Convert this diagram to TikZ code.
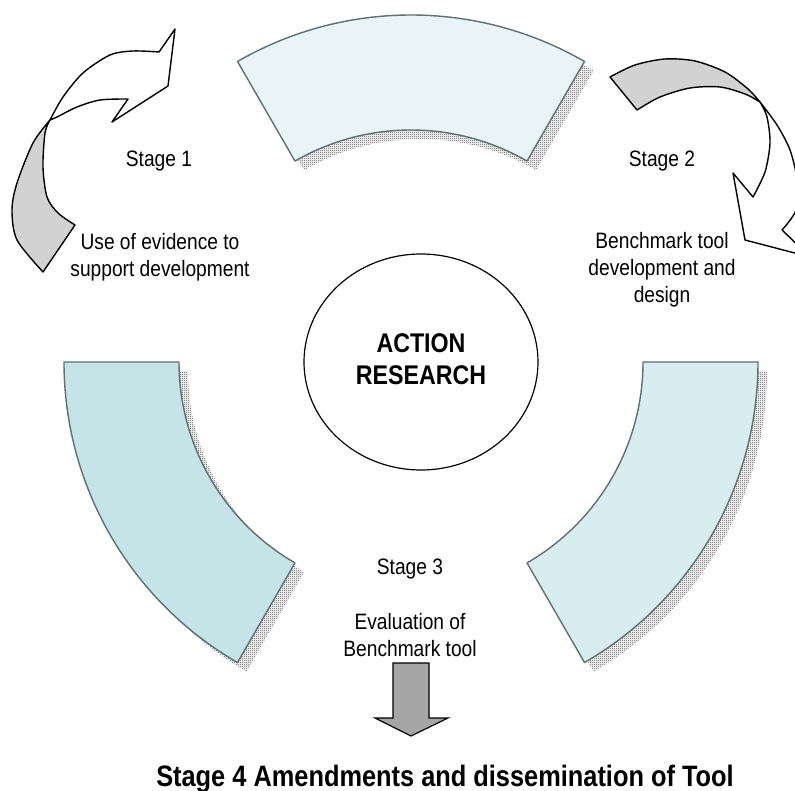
\documentclass[tikz,border=0pt]{standalone}
\usepackage{fontspec}
\setmainfont{Liberation Sans}[FakeStretch=0.86]
\usetikzlibrary{shapes.geometric, patterns}
\definecolor{bandline}{RGB}{95,112,112}
\definecolor{bandtop}{RGB}{232,244,245}
\definecolor{bandleft}{RGB}{197,228,232}
\definecolor{bandright}{RGB}{216,237,240}
% fine checker for the band shadows
\pgfdeclarepatternformonly{checker}{\pgfpointorigin}{\pgfpoint{2pt}{2pt}}{\pgfpoint{2pt}{2pt}}{
  \pgfpathrectangle{\pgfpointorigin}{\pgfpoint{1pt}{1pt}}
  \pgfpathrectangle{\pgfpoint{1pt}{1pt}}{\pgfpoint{1pt}{1pt}}
  \pgfusepath{fill}}
\tikzset{
  band/.style={draw=bandline, line width=1.4pt, line join=round},
  bandshadow/.style={pattern=checker, pattern color=black!70},
  bendarrow/.style={draw=black, line width=1.4pt, line join=round},
  stagetext/.style={font=\fontsize{22.3}{27}\selectfont, align=center, inner sep=0pt, anchor=base},
}

\begin{document}
\begin{tikzpicture}[x=1pt, y=-1pt]
\useasboundingbox (0,0) rectangle (795,791);
\clip (0,0) rectangle (795,791);

% the three bands round the middle, shadow first
\foreach \a/\b/\col in {-120/-60/bandtop, -240/-180/bandleft, -360/-300/bandright}{
  \fill[bandshadow, shift={(420,371)}] (\a:347) arc[start angle=\a, end angle=\b, radius=347]
    -- (\b:232) arc[start angle=\b, end angle=\a, radius=232] -- cycle;
  \filldraw[band, fill=\col, shift={(411,362)}] (\a:347) arc[start angle=\a, end angle=\b, radius=347]
    -- (\b:232) arc[start angle=\b, end angle=\a, radius=232] -- cycle;
}

% stage 1 arrow (underside, then face)
\filldraw[bendarrow, fill=gray!35] plot[smooth] coordinates {(50,120) (33,143) (17,183) (12,210) (17,240) (43,272)}
  -- plot[smooth] coordinates {(75,225) (58,213) (47,197) (43,167) (45,133) (50,120)} -- cycle;
\filldraw[bendarrow, fill=white] plot[smooth] coordinates {(50,120) (63,97) (83,73) (110,55) (133,51) (159,52)}
  -- (175,29) -- (168,86) -- (112,122)
  -- plot[smooth] coordinates {(128,99) (100,100) (77,107) (57,117) (50,120)} -- cycle;

% stage 2 arrow
\filldraw[bendarrow, fill=gray!35] plot[smooth] coordinates {(760,102) (748,89) (725,72) (695,61) (665,59) (635,65) (610,77)}
  -- plot[smooth] coordinates {(637,110) (660,97) (690,88) (720,87) (745,94) (760,102)} -- cycle;
\filldraw[bendarrow, fill=white] plot[smooth] coordinates {(760,102) (777,125) (790,150) (797,180) (796,210) (782,230)}
  -- (810,257) -- (745,240) -- (733,173)
  -- plot[smooth] coordinates {(753,197) (765,172) (770,143) (767,117) (760,102)} -- cycle;

% centre
\node[draw, ellipse, line width=1.2pt, minimum width=234pt, minimum height=216pt, align=center,
  text depth=6pt, font=\fontsize{27}{32}\selectfont\bfseries] (research) at (421,362) {ACTION\\RESEARCH};

% stage labels (base is the last line)
\node[stagetext] (stage1) at (159,167) {Stage 1};
\node[stagetext] (evidence) at (160,277) {Use of evidence to\\support development};
\node[stagetext] (stage2) at (662,167) {Stage 2};
\node[stagetext] (design) at (662,303) {Benchmark tool\\development and\\design};
\node[stagetext] (stage3) at (410,574) {Stage 3};
\node[stagetext] (evaluation) at (410,656) {Evaluation of\\Benchmark tool};

% arrow down to stage 4
\filldraw[fill=gray!70, line width=1.2pt, line join=miter] (393,663) -- (429,663) -- (429,718) -- (448,718)
  -- (411,736) -- (375,718) -- (393,718) -- cycle;
\node[anchor=base, inner sep=0pt, font=\fontsize{29.5}{34}\selectfont\bfseries] (stage4) at (445,786)
  {Stage 4 Amendments and dissemination of Tool};
\end{tikzpicture}
\end{document}
